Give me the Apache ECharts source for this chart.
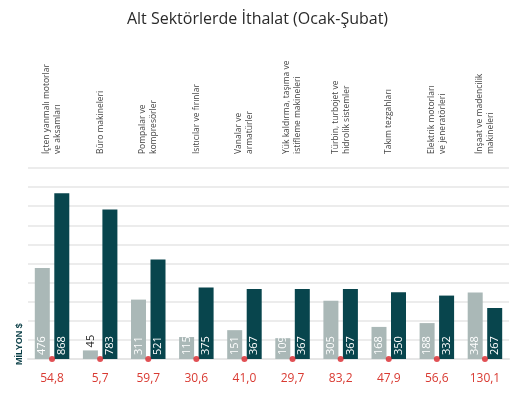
<!DOCTYPE html><html><head><meta charset="utf-8"><script src="https://cdn.jsdelivr.net/npm/echarts@6/dist/echarts.min.js"></script></head><body style="margin:0"><div id="c" style="width:515px;height:403px"></div><script>
const categories=["İçten yanmalı motorlar\nve aksamları","Büro makineleri","Pompalar ve\nkompresörler","Isıtıcılar ve fırınlar","Vanalar ve\narmatürler","Yük kaldırma, taşıma ve\nistifleme makineleri","Türbin, turbojet ve\nhidrolik sistemler","Takım tezgahları","Elektrik motorları\nve jeneratörleri","İnşaat ve madencilik\nmakineleri"];
const changes=["54,8","5,7","59,7","30,6","41,0","29,7","83,2","47,9","56,6","130,1"];
const prev=[476,45,311,115,151,109,305,168,188,348];
const curr=[868,783,521,375,367,367,367,350,332,267];
const ch=echarts.init(document.getElementById('c'));
const F='"Open Sans", sans-serif';
const lab={show:true,position:'insideBottom',rotate:90,align:'left',verticalAlign:'middle',color:'#fff',fontSize:11,fontFamily:F,distance:4};
ch.setOption({
title:{text:'Alt Sektörlerde İthalat (Ocak-Şubat)',left:'center',top:6,textStyle:{fontSize:16,fontWeight:500,color:'#2a2a2a',fontFamily:F}},
grid:{left:28,right:6,top:168,bottom:44},
xAxis:[{type:'category',data:changes,axisTick:{show:false},axisLine:{lineStyle:{color:'#e6e6e6',width:2}},axisLabel:{color:'#d93a32',fontSize:12,margin:14,fontFamily:F}},
{type:'category',position:'top',data:categories,axisTick:{show:false},axisLine:{show:false},axisLabel:{rotate:-90,margin:14,fontSize:8.5,lineHeight:11,color:'#444',fontFamily:F,interval:0}}],
yAxis:{type:'value',min:0,max:1000,interval:100,axisLabel:{show:false},splitLine:{lineStyle:{color:'#ececec',width:2}},name:'MİLYON $',nameLocation:'start',nameRotate:90,nameGap:6,nameTextStyle:{align:'left',verticalAlign:'bottom',fontWeight:'bold',fontSize:9,color:'#0b3f47',padding:[0,0,4,0]}},
series:[
{type:'bar',data:prev.map(v=>v<80?{value:v,label:{position:'top',color:'#222',distance:3}}:v),barWidth:15,barGap:'30%',itemStyle:{color:'#aab8b7'},label:lab},
{type:'bar',data:curr,barWidth:15,itemStyle:{color:'#08454d'},label:lab},
{type:'scatter',data:changes.map(()=>0),symbolSize:6,itemStyle:{color:'#d9252b'},z:5}
]});
</script></body></html>
